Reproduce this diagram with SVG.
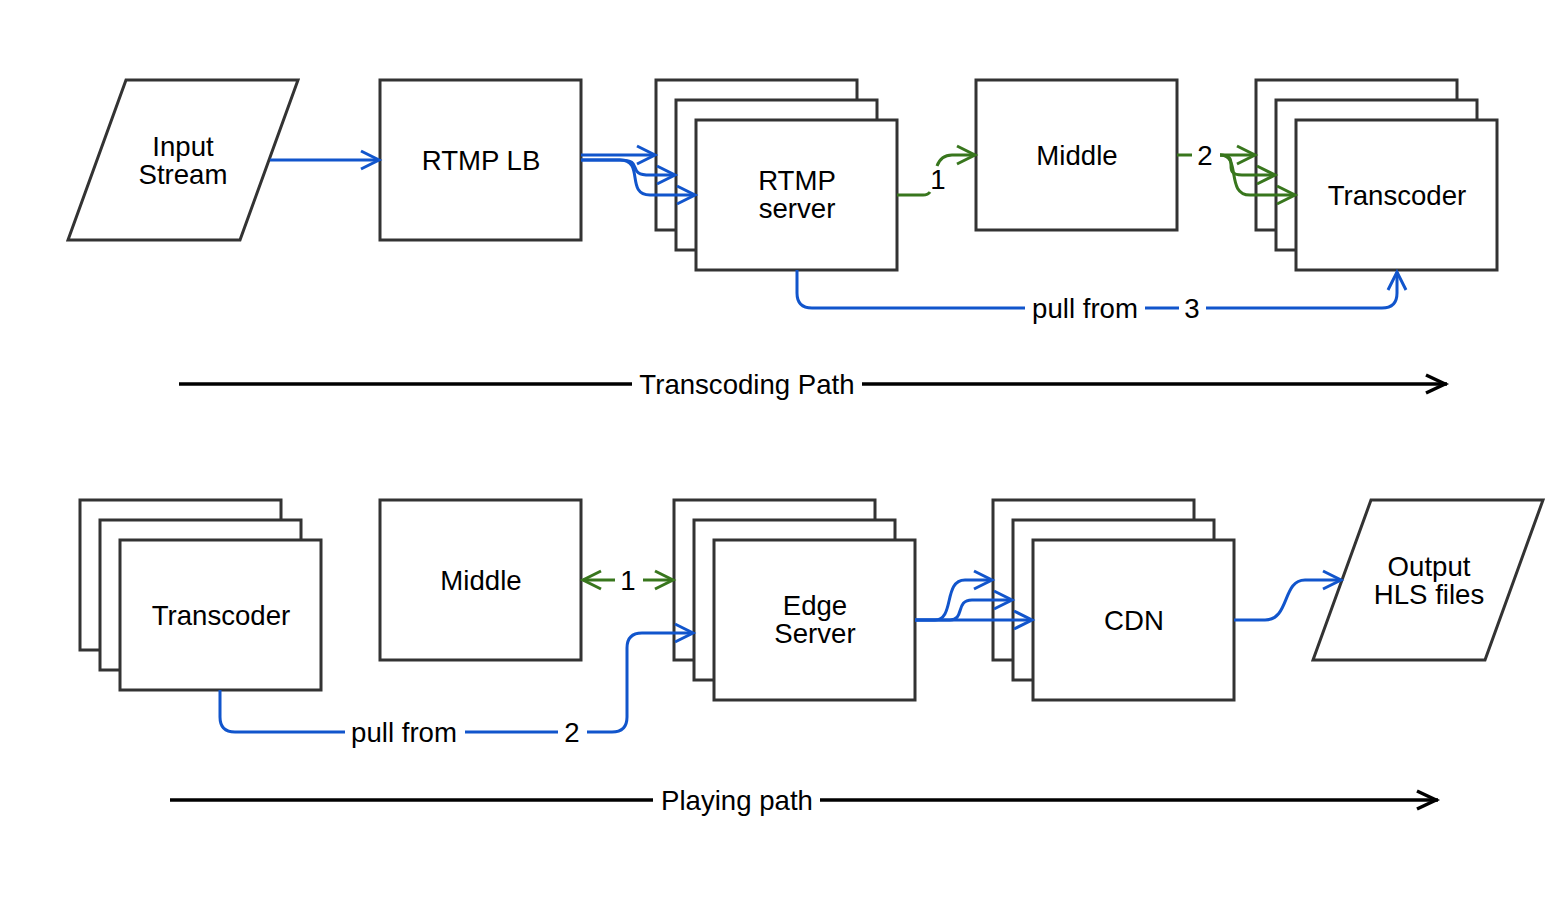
<svg xmlns="http://www.w3.org/2000/svg" width="1566" height="900" viewBox="0 0 1566 900">
<style>
.n{fill:#fff;stroke:#333;stroke-width:3}
.t{font-family:"Liberation Sans",Arial,Helvetica,sans-serif;font-size:27.6px;fill:#000;text-anchor:middle}
.b{fill:none;stroke:#1155cc;stroke-width:3}
.g{fill:none;stroke:#38761d;stroke-width:3}
.k{fill:none;stroke:#000;stroke-width:3.5}
</style>
<defs>
<marker id="ab" markerUnits="userSpaceOnUse" markerWidth="30" markerHeight="30" refX="20" refY="12" orient="auto" overflow="visible">
<path d="M2,3 L20,12 L2,21" fill="none" stroke="#1155cc" stroke-width="3"/>
</marker>
<marker id="ag" markerUnits="userSpaceOnUse" markerWidth="30" markerHeight="30" refX="20" refY="12" orient="auto-start-reverse" overflow="visible">
<path d="M2,3 L20,12 L2,21" fill="none" stroke="#38761d" stroke-width="3"/>
</marker>
<marker id="ak" markerUnits="userSpaceOnUse" markerWidth="30" markerHeight="30" refX="23" refY="12" orient="auto" overflow="visible">
<path d="M2,3 L21,12 L2,21" fill="none" stroke="#000" stroke-width="3.5"/>
</marker>
</defs>
<rect width="1566" height="900" fill="#fff"/>

<g id="input-stream">
<polygon class="n" points="68,240 126,80 298,80 240,240"/>
<text class="t" x="183" y="156">Input</text>
<text class="t" x="183" y="184">Stream</text>
</g>
<g id="rtmp-lb">
<rect class="n" x="380" y="80" width="201" height="160"/>
<text class="t" x="481" y="170">RTMP LB</text>
</g>
<g id="rtmp-server">
<rect class="n" x="656" y="80" width="201" height="150"/>
<rect class="n" x="676" y="100" width="201" height="150"/>
<rect class="n" x="696" y="120" width="201" height="150"/>
<text class="t" x="797" y="190">RTMP</text>
<text class="t" x="797" y="218">server</text>
</g>
<g id="middle-top">
<rect class="n" x="976" y="80" width="201" height="150"/>
<text class="t" x="1077" y="165">Middle</text>
</g>
<g id="transcoder-top">
<rect class="n" x="1256" y="80" width="201" height="150"/>
<rect class="n" x="1276" y="100" width="201" height="150"/>
<rect class="n" x="1296" y="120" width="201" height="150"/>
<text class="t" x="1397" y="205">Transcoder</text>
</g>

<g id="transcoder-bottom">
<rect class="n" x="80" y="500" width="201" height="150"/>
<rect class="n" x="100" y="520" width="201" height="150"/>
<rect class="n" x="120" y="540" width="201" height="150"/>
<text class="t" x="221" y="625">Transcoder</text>
</g>
<g id="middle-bottom">
<rect class="n" x="380" y="500" width="201" height="160"/>
<text class="t" x="481" y="590">Middle</text>
</g>
<g id="edge-server">
<rect class="n" x="674" y="500" width="201" height="160"/>
<rect class="n" x="694" y="520" width="201" height="160"/>
<rect class="n" x="714" y="540" width="201" height="160"/>
<text class="t" x="815" y="615">Edge</text>
<text class="t" x="815" y="643">Server</text>
</g>
<g id="cdn">
<rect class="n" x="993" y="500" width="201" height="160"/>
<rect class="n" x="1013" y="520" width="201" height="160"/>
<rect class="n" x="1033" y="540" width="201" height="160"/>
<text class="t" x="1134" y="630">CDN</text>
</g>
<g id="output-hls">
<polygon class="n" points="1313,660 1371,500 1543,500 1485,660"/>
<text class="t" x="1429" y="576">Output</text>
<text class="t" x="1429" y="604">HLS files</text>
</g>

<g id="connectors">
<path class="b" d="M270,160 H379" marker-end="url(#ab)"/>
<path class="b" d="M581,155 H655" marker-end="url(#ab)"/>
<path class="b" d="M581,160 H620 C645,160 625,175 650,175 H675" marker-end="url(#ab)"/>
<path class="b" d="M581,160 H620 C645,160 625,195 650,195 H695" marker-end="url(#ab)"/>

<path class="g" d="M897,195 H923 Q928,195 930,192"/>
<text class="t" x="938" y="189">1</text>
<path class="g" d="M937,166 Q941,155 952,155 H975" marker-end="url(#ag)"/>

<path class="g" d="M1177,155 H1192"/>
<text class="t" x="1205" y="165">2</text>
<path class="g" d="M1220,155 H1255" marker-end="url(#ag)"/>
<path class="g" d="M1220,155 C1242,155 1220,175 1242,175 H1275" marker-end="url(#ag)"/>
<path class="g" d="M1220,155 C1242,155 1225,195 1250,195 H1295" marker-end="url(#ag)"/>

<path class="b" d="M797,270 V293 Q797,308 812,308 H1025"/>
<text class="t" x="1085" y="318">pull from</text>
<path class="b" d="M1145,308 H1179"/>
<text class="t" x="1192" y="318">3</text>
<path class="b" d="M1206,308 H1382 Q1397,308 1397,293 V272" marker-end="url(#ab)"/>

<path class="k" d="M179,384 H632"/>
<text class="t" x="747" y="394">Transcoding Path</text>
<path class="k" d="M862,384 H1447" marker-end="url(#ak)"/>

<path class="g" d="M615,580 H583" marker-end="url(#ag)"/>
<text class="t" x="628" y="590">1</text>
<path class="g" d="M643,580 H673" marker-end="url(#ag)"/>

<path class="b" d="M220,690 V717 Q220,732 235,732 H345"/>
<text class="t" x="404" y="742">pull from</text>
<path class="b" d="M465,732 H558"/>
<text class="t" x="572" y="742">2</text>
<path class="b" d="M587,732 H612 Q627,732 627,717 V648 Q627,633 642,633 H693" marker-end="url(#ab)"/>

<path class="b" d="M915,620 H1032" marker-end="url(#ab)"/>
<path class="b" d="M915,620 H935 C955,620 943,580 965,580 H992" marker-end="url(#ab)"/>
<path class="b" d="M915,620 H950 C965,620 955,600 972,600 H1012" marker-end="url(#ab)"/>

<path class="b" d="M1234,620 H1265 C1290,620 1282,580 1305,580 H1341" marker-end="url(#ab)"/>

<path class="k" d="M170,800 H653"/>
<text class="t" x="737" y="810">Playing path</text>
<path class="k" d="M820,800 H1438" marker-end="url(#ak)"/>
</g>
</svg>
